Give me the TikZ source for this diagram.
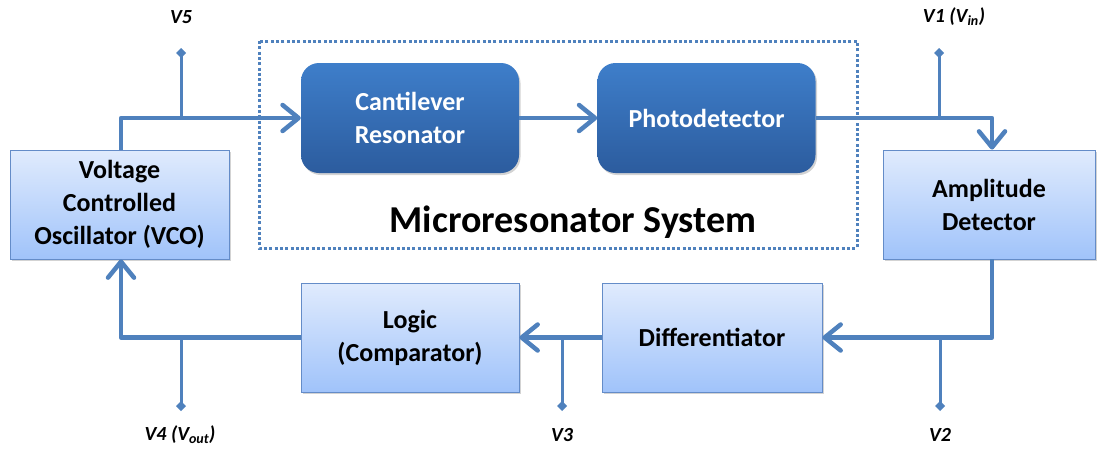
\documentclass[tikz,border=0pt]{standalone}
\usepackage{fontspec}
\setmainfont{Carlito}
\usetikzlibrary{arrows.meta,shadows}
\definecolor{lnblue}{RGB}{79,129,189}
\definecolor{lightTop}{RGB}{224,235,253}
\definecolor{lightBot}{RGB}{160,195,250}
\definecolor{lightBorder}{RGB}{100,140,200}
\definecolor{darkTop}{RGB}{62,126,202}
\definecolor{darkBot}{RGB}{44,92,158}
\begin{document}
\begin{tikzpicture}[x=1pt,y=-1pt,
  lightbox/.style={rectangle, draw=lightBorder, line width=0.8pt, top color=lightTop, bottom color=lightBot,
    minimum width=#1, minimum height=109pt, inner sep=0pt, align=center,
    font=\fontsize{26}{33}\selectfont\bfseries,
    drop shadow={opacity=0.35, shadow xshift=1.5pt, shadow yshift=-2pt}},
  darkbox/.style={rectangle, rounded corners=18pt, draw=none, top color=darkTop, bottom color=darkBot,
    minimum width=218pt, minimum height=110pt, inner sep=0pt, align=center, text=white,
    font=\fontsize{26}{33}\selectfont\bfseries,
    drop shadow={opacity=0.35, shadow xshift=1.5pt, shadow yshift=-2pt}},
  mainline/.style={draw=lnblue, line width=4.5pt, line join=round},
  arrowline/.style={mainline, -{Straight Barb[length=16pt,width=26pt,round]}},
  stub/.style={draw=lnblue, line width=3pt, -{Diamond[length=10pt,width=10pt]}},
  vlabel/.style={font=\fontsize{20}{24}\selectfont\bfseries\itshape, inner sep=0pt},
  dotbox/.style={draw=lnblue, line width=3pt, dash pattern=on 3pt off 2.3pt}
]
\useasboundingbox (0,0) rectangle (1097,450);

% dotted system boundary
\draw[dotbox] (259,41) rectangle (857,248);
\node[font=\fontsize{38}{44}\selectfont\bfseries, inner sep=0pt] (sys) at (573,222) {Microresonator System};

% blocks
\node[lightbox=219pt] (vco) at (119.5,204.5) {Voltage\\Controlled\\Oscillator (VCO)};
\node[darkbox] (cant) at (410,118) {Cantilever\\Resonator};
\node[darkbox] (photo) at (706.5,118) {Photodetector};
\node[lightbox=212pt] (amp) at (989,204.5) {Amplitude\\Detector};
\node[lightbox=220pt] (diff) at (712,337.5) {Differentiator};
\node[lightbox=218pt] (logic) at (410,337.5) {Logic\\(Comparator)};

% junction coordinates and probe ends
\coordinate (j5) at (181,118);
\coordinate (p5) at (181,48);
\coordinate (j1) at (939,118);
\coordinate (p1) at (939,48);
\coordinate (j2) at (940,337);
\coordinate (p2) at (940,411);
\coordinate (j3) at (562,337);
\coordinate (p3) at (562,411);
\coordinate (j4) at (181,337);
\coordinate (p4) at (181,411);

% probe stubs
\draw[stub] (j5) -- (p5);
\draw[stub] (j1) -- (p1);
\draw[stub] (j2) -- (p2);
\draw[stub] (j3) -- (p3);
\draw[stub] (j4) -- (p4);

% signal path
\draw[arrowline] ([xshift=1.5pt]vco.north) |- (cant.west);
\draw[arrowline] (cant.east) -- (photo.west);
\draw[arrowline] (photo.east) -| ([xshift=3pt]amp.north);
\draw[arrowline] ([xshift=3pt]amp.south) |- (diff.east);
\draw[arrowline] (diff.west) -- (logic.east);
\draw[arrowline] (logic.west) -| ([xshift=1.5pt]vco.south);

% probe labels
\node[vlabel] (l5) at (181,17) {V5};
\node[vlabel] (l1) at (954,17) {V1 (V\textsubscript{in})};
\node[vlabel] (l4) at (180,435) {V4 (V\textsubscript{out})};
\node[vlabel] (l3) at (562,435) {V3};
\node[vlabel] (l2) at (940,435) {V2};
\end{tikzpicture}
\end{document}
